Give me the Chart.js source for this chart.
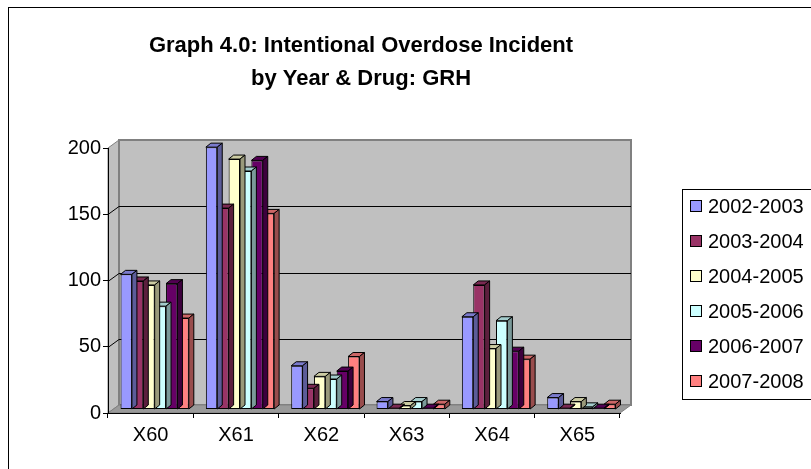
<!DOCTYPE html>
<html>
<head>
<meta charset="utf-8">
<script src="https://cdn.jsdelivr.net/npm/chart.js@4/dist/chart.umd.min.js"></script>
<style>
  html, body { margin: 0; padding: 0; background: #fff; }
  #wrap { width: 811px; height: 469px; }
</style>
</head>
<body>
<div id="wrap"><canvas id="c" width="811" height="469"></canvas></div>
<script>
// Drug categories and yearly series
const categories = ['X60', 'X61', 'X62', 'X63', 'X64', 'X65'];
const seriesNames = ['2002-2003', '2003-2004', '2004-2005', '2005-2006', '2006-2007', '2007-2008'];
const y2002 = [102, 198, 33, 6, 70, 9];
const y2003 = [97, 152, 16, 1, 94, 1];
const y2004 = [94, 189, 25, 3, 46, 6];
const y2005 = [78, 180, 23, 6, 67, 2];
const y2006 = [95, 188, 29, 1, 44, 1];
const y2007 = [69, 148, 40, 4, 38, 4];
const yTicks = [0, 50, 100, 150, 200];
const titleLines = ['Graph 4.0: Intentional Overdose Incident', 'by Year & Drug: GRH'];

const seriesValues = [y2002, y2003, y2004, y2005, y2006, y2007];
const seriesColors = ['#9999FF', '#993366', '#FFFFCC', '#CCFFFF', '#660066', '#FF8080'];

const FONT = '"Liberation Sans", Arial, sans-serif';

// 3D geometry: wall depth, bar plane offset, bar depth
const WALL_DX = 11, WALL_DY = -8;
const BAR_DX = 4, BAR_DY = -3.5;
const SIDE_DX = 5, SIDE_DY = -4;

function shade(hex, f) {
  const n = parseInt(hex.slice(1), 16);
  const r = Math.round(((n >> 16) & 255) * f);
  const g = Math.round(((n >> 8) & 255) * f);
  const b = Math.round((n & 255) * f);
  return `rgb(${r},${g},${b})`;
}

function poly(ctx, pts, fill, stroke, lw) {
  ctx.beginPath();
  ctx.moveTo(pts[0][0], pts[0][1]);
  for (let i = 1; i < pts.length; i++) ctx.lineTo(pts[i][0], pts[i][1]);
  ctx.closePath();
  if (fill) { ctx.fillStyle = fill; ctx.fill(); }
  if (stroke) { ctx.strokeStyle = stroke; ctx.lineWidth = lw || 1; ctx.stroke(); }
}

// Walls, floor, frame and gridlines behind the bars; bar depth faces; title and legend
const wallsPlugin = {
  id: 'walls',
  beforeDraw(chart) {
    const ctx = chart.ctx;
    const a = chart.chartArea;
    const ys = chart.scales.y;
    ctx.save();
    ctx.fillStyle = '#fff';
    ctx.fillRect(0, 0, chart.width, chart.height);
    // outer frame
    ctx.strokeStyle = '#000';
    ctx.lineWidth = 1;
    ctx.strokeRect(8.5, 7.5, 1000, 1000);

    const L = a.left, R = a.right, T = a.top, B = a.bottom;
    // left side wall
    poly(ctx, [[L, B], [L, T], [L + WALL_DX, T + WALL_DY], [L + WALL_DX, B + WALL_DY]], '#C0C0C0', '#808080', 1);
    // back wall
    poly(ctx, [[L + WALL_DX, T + WALL_DY], [R + WALL_DX, T + WALL_DY], [R + WALL_DX, B + WALL_DY], [L + WALL_DX, B + WALL_DY]], '#C0C0C0', '#808080', 2);
    // floor
    poly(ctx, [[L, B], [R, B], [R + WALL_DX, B + WALL_DY], [L + WALL_DX, B + WALL_DY]], '#9A9A9A', '#808080', 1);

    // gridlines on side and back wall
    ctx.strokeStyle = '#000';
    ctx.lineWidth = 1;
    yTicks.forEach(v => {
      if (v === 0 || v === 200) return;
      const py = Math.round(ys.getPixelForValue(v)) + 0.5;
      ctx.beginPath();
      ctx.moveTo(L, py);
      ctx.lineTo(L + WALL_DX, py + WALL_DY);
      ctx.lineTo(R + WALL_DX, py + WALL_DY);
      ctx.stroke();
    });
    ctx.restore();
  },
  beforeDatasetsDraw(chart) {
    chart.ctx.save();
    chart.ctx.translate(BAR_DX, BAR_DY);
  },
  afterDatasetDraw(chart, args) {
    const ctx = chart.ctx;
    const color = seriesColors[args.index];
    args.meta.data.forEach(el => {
      const p = el.getProps(['x', 'y', 'base', 'width'], true);
      const l = p.x - p.width / 2, r = p.x + p.width / 2;
      poly(ctx, [[l, p.y], [l + SIDE_DX, p.y + SIDE_DY], [r + SIDE_DX, p.y + SIDE_DY], [r, p.y]], shade(color, 0.8), '#000', 1);
      poly(ctx, [[r, p.y], [r + SIDE_DX, p.y + SIDE_DY], [r + SIDE_DX, p.base + SIDE_DY], [r, p.base]], shade(color, 0.6), '#000', 1);
    });
  },
  afterDatasetsDraw(chart) {
    chart.ctx.restore();
  },
  afterDraw(chart) {
    const ctx = chart.ctx;
    ctx.save();
    // title
    ctx.fillStyle = '#000';
    ctx.textAlign = 'center';
    ctx.textBaseline = 'middle';
    ctx.font = 'bold 22px ' + FONT;
    ctx.fillText(titleLines[0], 361, 46);
    ctx.fillText(titleLines[1], 361, 79);

    // legend
    ctx.fillStyle = '#fff';
    ctx.fillRect(682.5, 189.5, 200, 210);
    ctx.strokeStyle = '#000';
    ctx.lineWidth = 1;
    ctx.strokeRect(682.5, 189.5, 200, 210);
    ctx.font = '20px ' + FONT;
    ctx.textAlign = 'left';
    seriesNames.forEach((name, i) => {
      const cy = 206 + i * 35;
      ctx.fillStyle = seriesColors[i];
      ctx.fillRect(690.5, cy - 5.5, 11, 11);
      ctx.strokeStyle = '#000';
      ctx.strokeRect(690.5, cy - 5.5, 11, 11);
      ctx.fillStyle = '#000';
      ctx.fillText(name, 708, cy + 1);
    });
    ctx.restore();
  }
};

const chart = new Chart(document.getElementById('c'), {
  type: 'bar',
  data: {
    labels: categories,
    datasets: seriesNames.map((name, i) => ({
      label: name,
      data: seriesValues[i],
      backgroundColor: seriesColors[i],
      borderColor: '#000',
      borderWidth: 1,
      borderSkipped: false,
      categoryPercentage: 0.8,
      barPercentage: 1.0
    }))
  },
  options: {
    responsive: false,
    animation: false,
    devicePixelRatio: 1,
    layout: { padding: { top: 148, right: 191, left: 0, bottom: 0 } },
    plugins: {
      legend: { display: false },
      title: { display: false },
      tooltip: { enabled: false }
    },
    scales: {
      x: {
        offset: true,
        grid: { offset: true, drawOnChartArea: false, drawTicks: true, tickLength: 5, color: '#000' },
        border: { color: '#000', width: 1 },
        ticks: { color: '#000', font: { family: FONT, size: 20 }, padding: 5, maxRotation: 0 },
        afterFit(s) { s.height = 56; }
      },
      y: {
        min: 0, max: 200,
        grid: { drawOnChartArea: false, drawTicks: true, tickLength: 5, color: '#000' },
        border: { color: '#000', width: 1 },
        ticks: { color: '#000', font: { family: FONT, size: 20 }, padding: 2 },
        afterBuildTicks(s) { s.ticks = yTicks.map(v => ({ value: v })); },
        afterFit(s) { s.width = 108; }
      }
    }
  },
  plugins: [wallsPlugin]
});
</script>
</body>
</html>
